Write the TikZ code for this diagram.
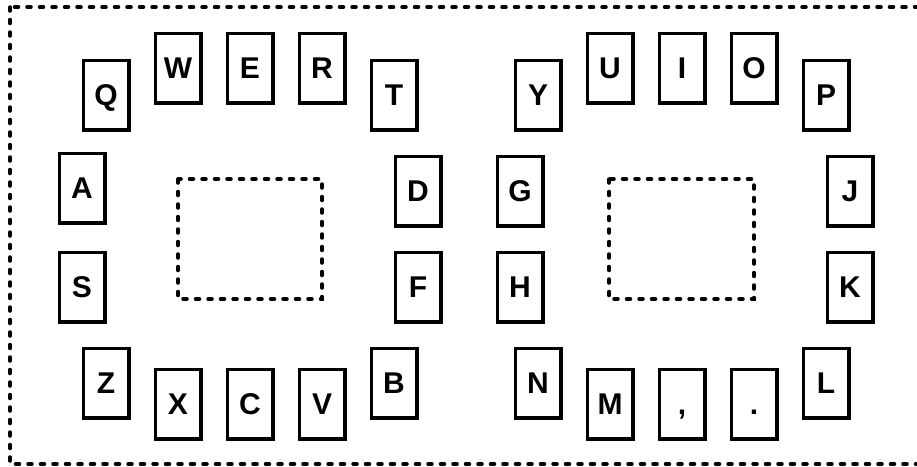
\documentclass[tikz,border=0pt]{standalone}
\usepackage{fontspec}
\setmainfont{Liberation Sans}
\begin{document}
\begin{tikzpicture}[x=1pt, y=-1pt,
 taste/.style={draw, line width=3.5pt, minimum width=45.5pt, minimum height=69.5pt,
  inner sep=0pt, text height=21pt, text depth=0pt,
  font=\fontsize{30}{34}\selectfont\bfseries},
 feld/.style={draw, line width=3.5pt, dash pattern=on 4pt off 8.5pt, line cap=round}]
 \useasboundingbox (0,0) rectangle (917,466);

 % Rahmen und Felder
 \draw[feld] (10,7) rectangle (926,464);
 \draw[feld] (178,179) rectangle (322,299);
 \draw[feld] (609,179) rectangle (754,299);

 % linke Haelfte
 \node[taste] (q) at (106,95) {Q};
 \node[taste] (w) at (178,68) {W};
 \node[taste] (e) at (250,68) {E};
 \node[taste] (r) at (322,68) {R};
 \node[taste] (t) at (394,95) {T};
 \node[taste] (a) at (82,188) {A};
 \node[taste] (d) at (418,191) {D};
 \node[taste] (s) at (82,287) {S};
 \node[taste] (f) at (418,287) {F};
 \node[taste] (z) at (106,383) {Z};
 \node[taste] (x) at (178,404) {X};
 \node[taste] (c) at (250,404) {C};
 \node[taste] (v) at (322,404) {V};
 \node[taste] (b) at (394,383) {B};

 % rechte Haelfte
 \node[taste] (y) at (538,95) {Y};
 \node[taste] (u) at (610,68) {U};
 \node[taste] (i) at (682,68) {I};
 \node[taste] (o) at (754,68) {O};
 \node[taste] (p) at (826,95) {P};
 \node[taste] (g) at (520,191) {G};
 \node[taste] (j) at (850,191) {J};
 \node[taste] (h) at (520,287) {H};
 \node[taste] (k) at (850,287) {K};
 \node[taste] (n) at (538,383) {N};
 \node[taste] (m) at (610,404) {M};
 \node[taste] (komma) at (682,404) {,};
 \node[taste] (punkt) at (754,404) {.};
 \node[taste] (l) at (826,383) {L};
\end{tikzpicture}
\end{document}
